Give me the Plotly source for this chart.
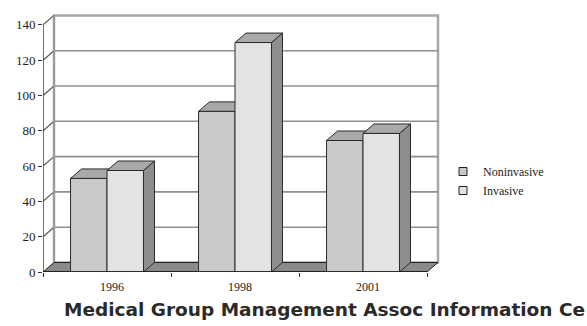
import plotly.graph_objects as go

# ---- data ----
categories = ["1996", "1998", "2001"]
series_names = ["Noninvasive", "Invasive"]
noninvasive = [53, 91, 74.5]
invasive = [57.5, 130, 78.5]
y_ticks = [0, 20, 40, 60, 80, 100, 120, 140]

# ---- layout constants (pixels) ----
W, H = 587, 326
ML, MR, MT, MB = 43, 147, 14, 54
plot_w = W - ML - MR
plot_h = H - MT - MB
PX_CAT = 128.0
PX_VAL = 1.765
X0 = -0.5
X1 = X0 + plot_w / PX_CAT
Y1 = plot_h / PX_VAL
DX = 11 / PX_CAT
DY = 9.5 / PX_VAL
BW = 0.285
YMAX = max(y_ticks)
NCAT = len(categories)

FRONT = ["#c9c9c9", "#e3e3e3"]
TOP = "#a9a9a9"
SIDE = "#8e8e8e"
FLOOR = "#8a8a8a"
EDGE = "#2a2a2a"

fig = go.Figure()


def poly(xs, ys, fill, line="#2a2a2a", width=1):
    fig.add_trace(go.Scatter(
        x=list(xs) + [xs[0]], y=list(ys) + [ys[0]], mode="lines",
        fill="toself", fillcolor=fill, line=dict(color=line, width=width),
        showlegend=False, hoverinfo="skip"))


def lines(segs, color, width):
    xs, ys = [], []
    for (xa, ya), (xb, yb) in segs:
        xs += [xa, xb, None]
        ys += [ya, yb, None]
    fig.add_trace(go.Scatter(x=xs, y=ys, mode="lines",
                             line=dict(color=color, width=width),
                             showlegend=False, hoverinfo="skip"))


# back wall
bx0, bx1 = X0 + DX, X0 + NCAT + DX
poly([bx0, bx1, bx1, bx0], [DY, DY, YMAX + DY, YMAX + DY], "white", "#a8a8a8", 2.5)
# back wall gridlines
lines([((bx0, v + DY), (bx1, v + DY)) for v in y_ticks[1:-1]], "#8f8f8f", 1.6)
# left wall: connectors and edges
lines([((X0, v), (X0 + DX, v + DY)) for v in y_ticks[1:]], "#555555", 1.2)
lines([((bx0, DY), (bx0, YMAX + DY))], "#9a9a9a", 1.8)
lines([((X0, 0), (X0, YMAX))], "#333333", 1.4)
# floor
poly([X0, X0 + NCAT, X0 + NCAT + DX, X0 + DX], [0, 0, DY, DY], FLOOR, "#222222", 1)

# bars
for i in range(NCAT):
    for s, vals in enumerate([noninvasive, invasive]):
        v = vals[i]
        l = i - BW + s * BW
        r = l + BW
        poly([r, r + DX, r + DX, r], [0, DY, v + DY, v], SIDE, EDGE)
        poly([l, r, r + DX, l + DX], [v, v, v + DY, v + DY], TOP, EDGE)
        poly([l, r, r, l], [0, 0, v, v], FRONT[s], EDGE)

# front axis line
lines([((X0, 0), (X0 + NCAT, 0))], "#111111", 1.4)

# legend entries
for s, name in enumerate(series_names):
    fig.add_trace(go.Scatter(
        x=[None], y=[None], mode="markers", name=name,
        marker=dict(symbol="square", size=8, color=FRONT[s],
                    line=dict(color="#222222", width=1))))

serif = "Liberation Serif"
fig.update_layout(
    width=W, height=H,
    margin=dict(l=ML, r=MR, t=MT, b=MB, pad=0),
    paper_bgcolor="white", plot_bgcolor="white",
    xaxis=dict(range=[X0, X1], showgrid=False, zeroline=False, showline=False,
               tickmode="array", tickvals=[i + 0.04 for i in range(NCAT)],
               ticktext=categories, ticks="",
               ticklabelstandoff=6,
               minor=dict(tickmode="array",
                          tickvals=[X0 + k for k in range(NCAT + 1)],
                          ticks="outside", ticklen=4, tickcolor="#333", tickwidth=1),
               tickfont=dict(family=serif, size=12, color="#222")),
    yaxis=dict(range=[0, Y1], showgrid=False, zeroline=False, showline=False,
               tickmode="array", tickvals=y_ticks, ticks="outside", ticklen=4,
               tickcolor="#333", tickwidth=1,
               tickfont=dict(family=serif, size=13, color="#222")),
    legend=dict(x=(443 - ML) / plot_w, y=(H - MB - 157) / plot_h,
                xanchor="left", yanchor="top",
                font=dict(family=serif, size=12, color="#222"),
                itemwidth=30, tracegroupgap=0, bgcolor="rgba(0,0,0,0)"),
    annotations=[dict(
        text="Medical Group Management Assoc Information Ce",
        xref="paper", yref="paper",
        x=(62 - ML) / plot_w, y=(H - MB - 309) / plot_h,
        xanchor="left", yanchor="middle", showarrow=False,
        font=dict(family="DejaVu Sans", size=18.5, weight="bold", color="#2a2a2a"))],
)

fig.write_html("out.html")
